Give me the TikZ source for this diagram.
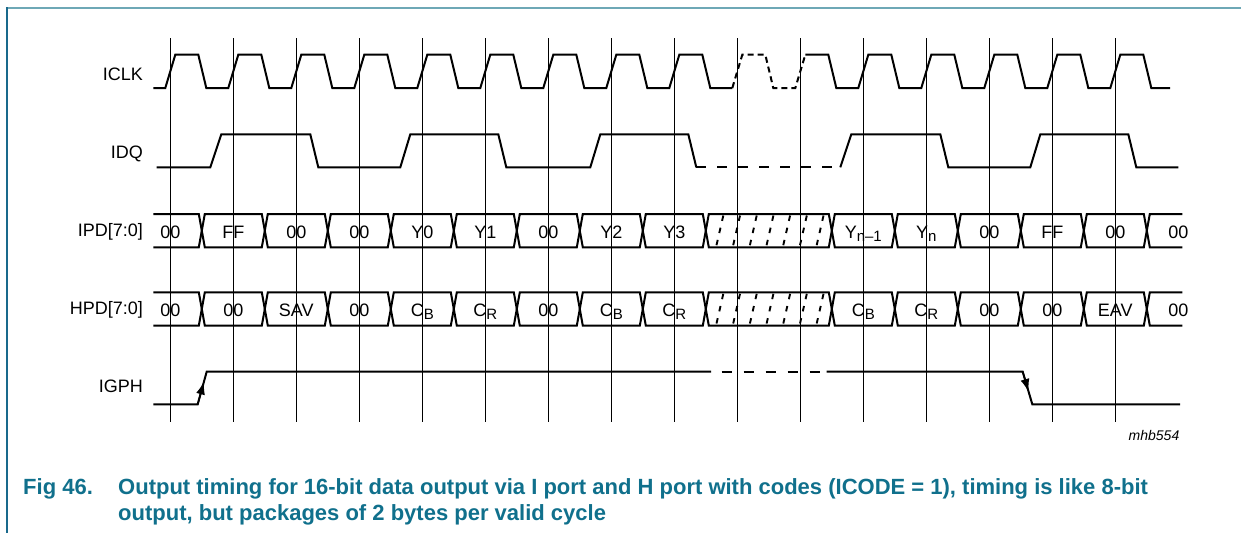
\documentclass[tikz,border=0pt]{standalone}
\usepackage{fontspec}
\setmainfont{Liberation Sans}
\usetikzlibrary{arrows.meta,calc}
\definecolor{capteal}{RGB}{16,112,140}
\definecolor{frametop}{RGB}{110,168,182}
\definecolor{frameleft}{RGB}{25,105,140}
\newcommand\subtxt[1]{\raisebox{-3.5pt}{\fontsize{15}{15}\selectfont #1}}
\newcommand\drawbusrow[2]{%
  \pgfmathsetmacro\ym{(#1+#2)/2}
  \draw[wave] (153.3,#1) -- (198.8,#1) -- (201.8,\ym) -- (198.8,#2) -- (153.3,#2);
  \foreach \a/\b in {0/1,1/2,2/3,3/4,4/5,5/6,6/7,7/8,8/10,10/11,11/12,12/13,13/14,14/15}
    \draw[wave] ({201.8+63*\a},\ym) -- ({201.8+63*\a+3},#1) -- ({201.8+63*\b-3},#1)
      -- ({201.8+63*\b},\ym) -- ({201.8+63*\b-3},#2) -- ({201.8+63*\a+3},#2) -- cycle;
  \draw[wave] (1182.3,#1) -- (1149.8,#1) -- (1146.8,\ym) -- (1149.8,#2) -- (1182.3,#2);
  \foreach \i in {0,...,6}
    \draw[hatch] ({723.3+16.7*\i},{#1+1.5}) -- ({716+16.7*\i},{#2});
}
\begin{document}
\begin{tikzpicture}[x=1pt,y=-1pt,
  wave/.style={line width=2pt},
  tick/.style={line width=0.9pt},
  hatch/.style={line width=1.9pt, dash pattern=on 5.5pt off 7pt},
  sig/.style={font=\fontsize{18}{18}\selectfont, inner sep=0pt, anchor=base east},
  cell/.style={font=\fontsize{18}{18}\selectfont, inner sep=0pt, anchor=base},
  captxt/.style={font=\bfseries\fontsize{22}{22}\selectfont, text=capteal, inner sep=0pt, anchor=base west},
  tip/.style={line width=1.5pt, -{Latex[length=13pt,width=9pt]}}]
\useasboundingbox (0,0) rectangle (1241,533);
% frame
\draw[frametop, line width=2pt] (6.5,7.5) -- (1241,7.5);
\draw[frameleft, line width=1.6pt] (7.2,7) -- (7.2,533);
% clock ticks
\foreach \k in {0,...,15}
  \draw[tick] ({170.3+63*\k},38.3) -- ({170.3+63*\k},422.3);
% signal names
\node[sig] (nclk) at (143,80) {ICLK};
\node[sig] (nidq) at (143,158.3) {IDQ};
\node[sig] (nipd) at (143,236.7) {IPD[7:0]};
\node[sig] (nhpd) at (143,314.3) {HPD[7:0]};
\node[sig] (nigph) at (143,392.7) {IGPH};
% ICLK
\draw[wave] (153.3,88) \foreach \k in {0,...,8}{ -- ({170.3+63*\k-5},88) -- ({170.3+63*\k+5},54.7)
   -- ({170.3+63*\k+28},54.7) -- ({170.3+63*\k+36},88)} -- (732.3,88);
\draw[wave, dash pattern=on 6pt off 4pt] (732.3,88) -- (742.3,54.7) -- (765.3,54.7) -- (773.3,88)
   -- (795.3,88) -- (805.3,54.7);
\draw[wave] (805.3,54.7) -- (828.3,54.7) -- (836.3,88) \foreach \k in {11,...,15}{ -- ({170.3+63*\k-5},88)
   -- ({170.3+63*\k+5},54.7) -- ({170.3+63*\k+28},54.7) -- ({170.3+63*\k+36},88)} -- (1170,88);
% IDQ
\draw[wave] (156.7,167.3) -- (210.3,167.3) -- (221.3,134.3) -- (310.3,134.3) -- (318.3,167.3)
   -- (400.3,167.3) -- (410.3,134.3) -- (498.3,134.3) -- (506.3,167.3) -- (590.3,167.3)
   -- (600.3,134.3) -- (688.3,134.3) -- (696.3,167.3);
\draw[wave, dash pattern=on 10pt off 11pt] (696.3,167.3) -- (840.3,167.3);
\draw[wave] (840.3,167.3) -- (851.3,134.3) -- (940.3,134.3) -- (948.3,167.3) -- (1030.3,167.3)
   -- (1040.3,134.3) -- (1128.3,134.3) -- (1136.3,167.3) -- (1178.3,167.3);
% buses
\drawbusrow{214}{247.3}
\drawbusrow{292.3}{325.7}
\foreach \k/\t in {0/00,1/FF,2/00,3/00,4/Y0,5/Y1,6/00,7/Y2,8/Y3,11/Y\subtxt{n–1},12/Y\subtxt{n},13/00,14/FF,15/00,16/00}
  \node[cell] (ipd\k) at ({170.3+63*\k},238) {\t};
\foreach \k/\t in {0/00,1/00,2/SAV,3/00,4/C\subtxt{B},5/C\subtxt{R},6/00,7/C\subtxt{B},8/C\subtxt{R},11/C\subtxt{B},12/C\subtxt{R},13/00,14/00,15/EAV,16/00}
  \node[cell] (hpd\k) at ({170.3+63*\k},316) {\t};
% IGPH
\coordinate (g0) at (197.7,404.3);
\coordinate (g1) at (206.7,371.7);
\coordinate (g2) at (1022.7,371.7);
\coordinate (g3) at (1032.3,404.3);
\draw[wave] (153.3,404.3) -- (g0) -- (g1) -- (711,371.7);
\draw[wave, dash pattern=on 10pt off 12pt] (721.7,371.7) -- (819.7,371.7);
\draw[wave] (826.7,371.7) -- (g2) -- (g3) -- (1180,404.3);
\draw[tip] (g0) -- ($(g0)!0.7!(g1)$);
\draw[tip] (g2) -- ($(g2)!0.62!(g3)$);
% id and caption
\node[font=\itshape\fontsize{14}{14}\selectfont, inner sep=0pt, anchor=base east] (mhb) at (1179.5,440.7) {mhb554};
\node[captxt] (figno) at (23,494) {Fig 46.};
\node[captxt] (cap1) at (118,494) {Output timing for 16-bit data output via I port and H port with codes (ICODE = 1), timing is like 8-bit};
\node[captxt] (cap2) at (118,520) {output, but packages of 2 bytes per valid cycle};
\end{tikzpicture}
\end{document}
